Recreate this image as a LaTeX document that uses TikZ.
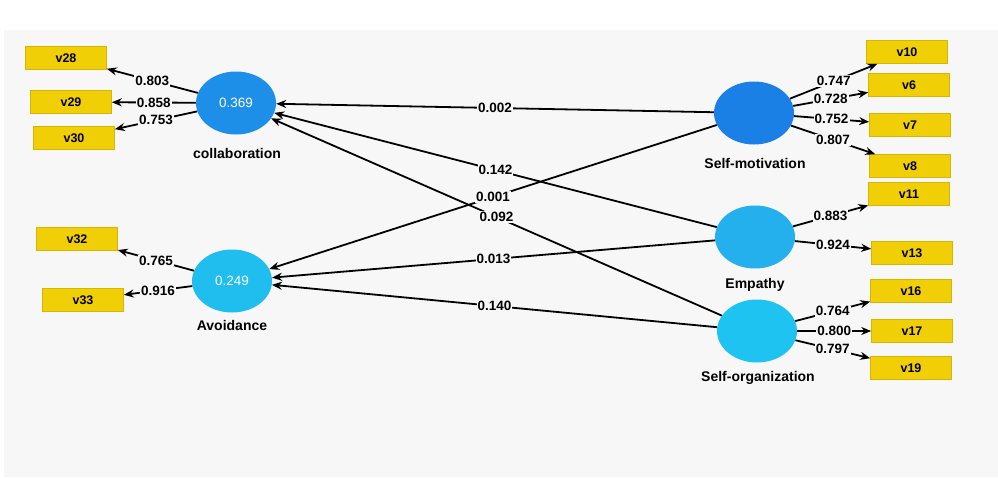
\documentclass[tikz,border=0pt]{standalone}
\usepackage{fontspec}
\setmainfont{Liberation Sans}
\usetikzlibrary{shapes.geometric,arrows.meta}
\definecolor{bgc}{HTML}{F8F7F8}
\definecolor{boxy}{HTML}{F1CF06}
\definecolor{boxd}{HTML}{D9B500}
\definecolor{blueA}{HTML}{1E8FE8}
\definecolor{blueB}{HTML}{1A80E6}
\definecolor{cyanA}{HTML}{20BDEF}
\definecolor{cyanB}{HTML}{24B0EC}
\definecolor{cyanC}{HTML}{1FC3F2}
\begin{document}
\begin{tikzpicture}[x=1pt,y=-1pt,
  lat/.style={ellipse, minimum width=80pt, minimum height=63pt, inner sep=0pt, text=white, font=\fontsize{13.5}{14}\selectfont},
  ind/.style={rectangle, fill=boxy, draw=boxd, line width=0.6pt, minimum width=81pt, minimum height=23pt, inner sep=0pt, font=\bfseries\fontsize{12.5}{14}\selectfont},
  lvcap/.style={font=\bfseries\fontsize{14}{16}\selectfont},
  lbl/.style={fill=bgc, inner sep=1pt, font=\bfseries\fontsize{13.5}{14}\selectfont},
  arr/.style={-{Stealth[length=10pt,width=8pt]}, line width=1.8pt}]
\useasboundingbox (0,0) rectangle (998,477);
\fill[white] (0,0) rectangle (998,477);
\fill[bgc] (4,30) rectangle (998,477);
% latent variables
\node[lat, fill=blueA] (col) at (236,103) {0.369};
\node[lat, fill=cyanA] (avo) at (232,281) {0.249};
\node[lat, fill=blueB] (smo) at (754,113) {};
\node[lat, fill=cyanB] (emp) at (755,237) {};
\node[lat, fill=cyanC] (sor) at (757,331) {};
% captions
\node[lvcap] (colc) at (237,153) {collaboration};
\node[lvcap] (avoc) at (232,325) {Avoidance};
\node[lvcap] (smoc) at (755,163) {Self-motivation};
\node[lvcap] (empc) at (755,285) {Empathy};
\node[lvcap] (sorc) at (758,378) {Self-organization};
% indicators
\node[ind] (v28) at (66,58) {v28};
\node[ind] (v29) at (71,102) {v29};
\node[ind] (v30) at (74,138) {v30};
\node[ind] (v32) at (77,239) {v32};
\node[ind] (v33) at (83,300) {v33};
\node[ind] (v10) at (907,52) {v10};
\node[ind] (v6) at (909,85) {v6};
\node[ind] (v7) at (910,125) {v7};
\node[ind] (v8) at (910,166) {v8};
\node[ind] (v11) at (909,194) {v11};
\node[ind] (v13) at (912,253) {v13};
\node[ind] (v16) at (911,291) {v16};
\node[ind] (v17) at (912,331) {v17};
\node[ind] (v19) at (911,368) {v19};
% structural paths
\draw[arr] (smo) -- node[lbl]{0.002} (col);
\draw[arr] (emp) -- node[lbl]{0.142} (col);
\draw[arr] (sor) -- node[lbl]{0.092} (col);
\draw[arr] (smo) -- node[lbl]{0.001} (avo);
\draw[arr] (emp) -- node[lbl]{0.013} (avo);
\draw[arr] (sor) -- node[lbl]{0.140} (avo);
% outer loadings
\draw[arr] (col) -- node[lbl]{0.803} (v28);
\draw[arr] (col) -- node[lbl]{0.858} (v29);
\draw[arr] (col) -- node[lbl]{0.753} (v30);
\draw[arr] (avo) -- node[lbl]{0.765} (v32);
\draw[arr] (avo) -- node[lbl]{0.916} (v33);
\draw[arr] (smo) -- node[lbl]{0.747} (v10);
\draw[arr] (smo) -- node[lbl]{0.728} (v6);
\draw[arr] (smo) -- node[lbl]{0.752} (v7);
\draw[arr] (smo) -- node[lbl]{0.807} (v8);
\draw[arr] (emp) -- node[lbl]{0.883} (v11);
\draw[arr] (emp) -- node[lbl]{0.924} (v13);
\draw[arr] (sor) -- node[lbl]{0.764} (v16);
\draw[arr] (sor) -- node[lbl]{0.800} (v17);
\draw[arr] (sor) -- node[lbl]{0.797} (v19);
\end{tikzpicture}
\end{document}
